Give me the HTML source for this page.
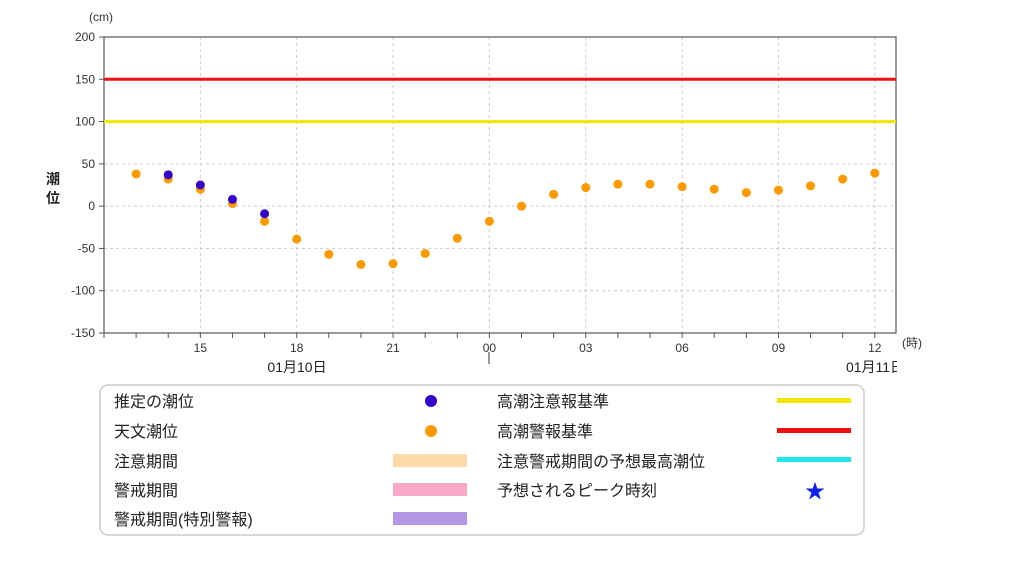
<!DOCTYPE html>
<html><head><meta charset="utf-8">
<style>
body{margin:0;background:#fff;}
svg{display:block;font-family:"Liberation Sans","Noto Sans CJK JP",sans-serif;}
</style></head>
<body>
<svg id="c" width="1024" height="561" viewBox="0 0 1024 561">
<defs><clipPath id="dc"><rect x="0" y="340" width="897" height="40"/></clipPath></defs>
<g id="grid"></g>
<rect x="104" y="37" width="792" height="296" fill="none" stroke="#555" stroke-width="1.2"/>
<g id="axes"></g>
<g id="marks"></g>
<text x="89" y="21" font-size="12" fill="#333">(cm)</text>
<text x="46" y="184" font-size="14" font-weight="bold" fill="#222">潮</text>
<text x="46" y="203" font-size="14" font-weight="bold" fill="#222">位</text>
<text x="902" y="347" font-size="12" fill="#333">(時)</text>
<g clip-path="url(#dc)">
<text x="297" y="372" font-size="14" fill="#222" text-anchor="middle">01月10日</text>
<text x="875" y="372" font-size="14" fill="#222" text-anchor="middle">01月11日</text>
</g>
<line x1="489" y1="352" x2="489" y2="364" stroke="#333"/>
<g>
<rect x="100" y="385" width="764" height="150" rx="8" fill="#fff" stroke="#ccc" stroke-width="1.5"/>
<g font-size="16" fill="#222">
<text x="114" y="407">推定の潮位</text>
<text x="114" y="437">天文潮位</text>
<text x="114" y="467">注意期間</text>
<text x="114" y="496">警戒期間</text>
<text x="114" y="525">警戒期間(特別警報)</text>
<text x="497" y="407">高潮注意報基準</text>
<text x="497" y="437">高潮警報基準</text>
<text x="497" y="467">注意警戒期間の予想最高潮位</text>
<text x="497" y="496">予想されるピーク時刻</text>
</g>
<circle cx="431" cy="401" r="6" fill="#3300cc"/>
<circle cx="431" cy="431" r="6" fill="#ff9900"/>
<rect x="393" y="454" width="74" height="13" fill="#fddba8"/>
<rect x="393" y="483" width="74" height="13" fill="#f9a8c8"/>
<rect x="393" y="512" width="74" height="13" fill="#b596e6"/>
<rect x="777" y="398" width="74" height="5" fill="#f2e600"/>
<rect x="777" y="428" width="74" height="5" fill="#ee1111"/>
<rect x="777" y="457" width="74" height="5" fill="#22e6ee"/>
<text x="815" y="498" font-size="20" fill="#1122ee" text-anchor="middle">★</text>
</g>
</svg>
<script>
const yTicks=[200,150,100,50,0,-50,-100,-150];
const xTickHours=[15,18,21,24,27,30,33,36];
const xTickLabels=["15","18","21","00","03","06","09","12"];
const astroHours=[13,14,15,16,17,18,19,20,21,22,23,24,25,26,27,28,29,30,31,32,33,34,35,36];
const astroValues=[38,32,20,3,-18,-39,-57,-69,-68,-56,-38,-18,0,14,22,26,26,23,20,16,19,24,32,39];
const estHours=[14,15,16,17];
const estValues=[37,25,8,-9];
const cautionLevel=100;
const warningLevel=150;
const NS="http://www.w3.org/2000/svg";
const X0=104,X1=896,Y0=37,Y1=333,H0=12,H1=36.66;
const x=h=>X0+(h-H0)*(X1-X0)/(H1-H0);
const y=v=>Y1-(v+150)*(Y1-Y0)/350;
function mk(t,a,p){const e=document.createElementNS(NS,t);for(const k in a)e.setAttribute(k,a[k]);p.appendChild(e);return e;}
const g=document.getElementById('grid'),ax=document.getElementById('axes'),m=document.getElementById('marks');
yTicks.forEach(v=>{
 if(v!==200&&v!==-150){const l=mk('line',{x1:X0,x2:X1,y1:y(v),y2:y(v),stroke:'#ccc','stroke-dasharray':'3,3'},g);
 
 }
 const tk=mk('line',{x1:X0-5,x2:X0,y1:y(v),y2:y(v),stroke:'#555'},ax);
 
 
 const t=mk('text',{x:X0-9,y:y(v)+4,'font-size':12,fill:'#333','text-anchor':'end'},ax);t.textContent=v;
 
 
});
for(let h=12;h<=36;h++){
 const tk=mk('line',{x1:x(h),x2:x(h),y1:Y1,y2:Y1+5,stroke:'#555'},ax);
 
 
}
xTickHours.forEach((h,i)=>{
 const l=mk('line',{x1:x(h),x2:x(h),y1:Y0,y2:Y1,stroke:'#ccc','stroke-dasharray':'3,3'},g);
 
 
 const t=mk('text',{x:x(h),y:Y1+19,'font-size':12,fill:'#333','text-anchor':'middle'},ax);t.textContent=xTickLabels[i];
 
 
});
const wl=mk('line',{x1:X0,x2:X1,y1:y(warningLevel),y2:y(warningLevel),stroke:'#ee1111','stroke-width':3},m);


const cl=mk('line',{x1:X0,x2:X1,y1:y(cautionLevel),y2:y(cautionLevel),stroke:'#f2e600','stroke-width':3},m);


astroHours.forEach((h,i)=>{
 const c=mk('circle',{cx:x(h),cy:y(astroValues[i]),r:4.5,fill:'#ff9900'},m);
 
 
});
estHours.forEach((h,i)=>{
 const c=mk('circle',{cx:x(h),cy:y(estValues[i]),r:4.5,fill:'#3300cc'},m);
 
 
});
</script>
</body></html>
